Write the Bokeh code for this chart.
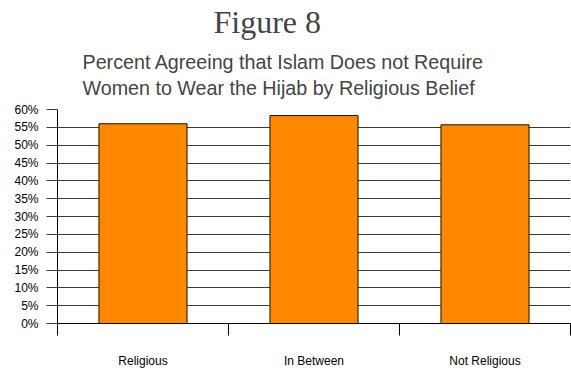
from bokeh.plotting import figure
from bokeh.models import Title, FixedTicker, PrintfTickFormatter, Range1d
from bokeh.embed import file_html
from bokeh.resources import INLINE
import numpy as np

categories = ["Religious", "In Between", "Not Religious"]
percent_agree = [56.0, 58.3, 55.7]
y_ticks = list(range(0, 65, 5))
subtitle_lines = ["Percent Agreeing that Islam Does not Require",
                  "Women to Wear the Hijab by Religious Belief"]

x_centers = (np.arange(len(categories)) + 0.5).tolist()
x_bounds = list(range(len(categories) + 1))

p = figure(width=571, height=370, output_backend="svg", toolbar_location=None,
           x_range=Range1d(0, len(categories)), y_range=Range1d(0, 60),
           min_border_left=57, min_border_right=1, min_border_top=109,
           min_border_bottom=34)
p.outline_line_color = None
p.background_fill_color = "white"
p.border_fill_color = "white"

p.vbar(x=x_centers, top=percent_agree, width=0.515, bottom=0,
       fill_color="#FF8800", line_color="#1a1000", line_width=1)

# grid
p.xgrid.visible = False
p.ygrid.ticker = FixedTicker(ticks=y_ticks)
p.ygrid.grid_line_color = "#3a3a3a"
p.ygrid.grid_line_width = 1

# y axis
p.yaxis.ticker = FixedTicker(ticks=y_ticks)
p.yaxis.formatter = PrintfTickFormatter(format="%d%%")
p.yaxis.major_tick_out = 11
p.yaxis.major_tick_in = 0
p.yaxis.minor_tick_line_color = None
p.yaxis.major_label_standoff = 8
p.yaxis.major_label_text_font = "Liberation Sans"
p.yaxis.major_label_text_font_size = "12px"
p.yaxis.major_label_text_color = "black"
p.yaxis.axis_line_color = "black"
p.yaxis.major_tick_line_color = "#3a3a3a"

# x axis
p.xaxis.ticker = FixedTicker(ticks=x_centers, minor_ticks=x_bounds)
p.xaxis.major_label_overrides = {c: lab for c, lab in zip(x_centers, categories)}
p.xaxis.major_tick_out = 0
p.xaxis.major_tick_in = 0
p.xaxis.major_tick_line_color = None
p.xaxis.minor_tick_out = 12
p.xaxis.minor_tick_in = 0
p.xaxis.minor_tick_line_color = "black"
p.xaxis.major_label_standoff = 18
p.xaxis.major_label_text_font = "Liberation Sans"
p.xaxis.major_label_text_font_size = "12px"
p.xaxis.major_label_text_color = "black"
p.xaxis.axis_line_color = "black"

p.add_layout(Title(text="\n".join(subtitle_lines), align="left",
                   offset=25, text_font="Liberation Sans", text_font_size="19.7px",
                   text_font_style="normal", text_line_height=1.2, standoff=20), "above")
p.add_layout(Title(text="Figure 8", align="left", offset=156,
                   text_font="Liberation Serif", text_font_size="32px",
                   text_font_style="normal", standoff=0), "above")

open("out.html", "w").write(file_html(p, INLINE))
